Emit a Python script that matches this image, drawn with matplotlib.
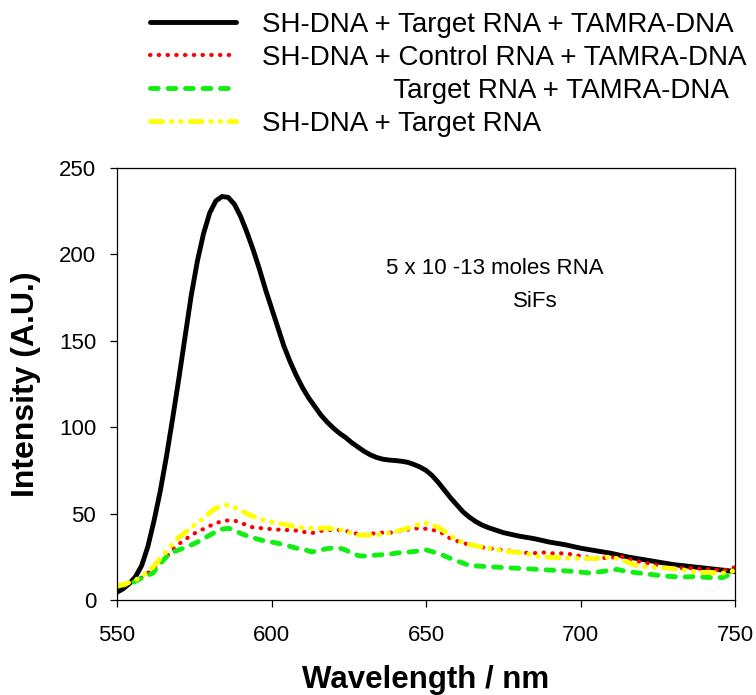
import matplotlib
matplotlib.use("Agg")
import matplotlib.pyplot as plt

plt.rcParams['font.family'] = ['Liberation Sans', 'DejaVu Sans']

# spectra (wavelength nm, intensity A.U.)
wl_black = [550, 552, 554, 556, 558, 560, 562, 564, 566, 568, 570, 572, 574, 576, 578, 580, 582,
            584, 586, 588, 590, 592, 594, 596, 598, 600, 602, 604, 606, 608, 610, 612, 614, 616,
            618, 620, 622, 624, 626, 628, 630, 632, 634, 636, 638, 640, 642, 644, 646, 648, 650,
            652, 654, 656, 658, 660, 662, 664, 666, 668, 670, 675, 680, 685, 690, 695, 700, 705,
            710, 715, 720, 725, 730, 735, 740, 745, 750]
int_black = [4.5, 6.5, 9.5, 13.5, 20, 31, 46, 63, 83, 105, 128, 152, 176, 196, 212, 224, 231,
             233.5, 233, 229, 222, 213, 203, 192, 180, 169, 158, 147, 138, 130, 123, 117, 112, 107,
             103, 99.5, 96.5, 94, 91, 88.5, 86, 84, 82.5, 81.5, 81, 80.7, 80.3, 79.7, 78.5, 77, 75,
             72, 68, 63.5, 59, 55, 51, 48, 45.5, 43.5, 42, 39, 37, 35.5, 33.5, 32, 30, 28.5,
             27, 25, 23.5, 22, 20.5, 19.5, 18.5, 17.5, 16.5]

wl_red = [550, 553, 555, 558, 561, 565, 569, 572, 575, 579, 582, 585, 588, 591, 594, 597, 600, 604,
          607, 610, 613, 616, 619, 623, 626, 629.6, 633, 636, 639, 642, 645, 648, 651, 654.5, 657,
          659, 663, 667.5, 672, 677, 681, 684, 688, 691, 694, 697, 701, 705, 709, 713.8, 717, 721,
          724, 727, 731, 735, 740, 744, 746, 748, 750]
int_red = [7, 8.5, 10, 13, 17, 23, 31, 35, 38.5, 42, 44.5, 46, 46, 44, 42, 41.5, 41, 40.5,
           40.5, 39.5, 38.7, 40, 40.5, 40.5, 39, 37.6, 38.5, 39, 39, 40, 41, 41.6, 41, 39.5, 36.5,
           34.7, 32.5, 30.7, 29.5, 28.5, 27.5, 27, 27.5, 27, 27, 26.5, 25, 24, 24.5, 25, 23, 21.5,
           20.5, 19, 18.5, 18.5, 18, 17.5, 17, 18, 19]

wl_green = [550, 553, 555, 558, 561.6, 564, 567, 570, 572.6, 576, 579, 582, 584, 586, 588, 590, 593,
            597, 601.7, 605, 608, 611, 613, 616, 619, 622, 624, 626, 628.6, 631, 634, 638, 642, 645,
            648, 650, 652, 654.5, 658, 661, 664, 668, 673, 678, 683.6, 688, 694, 698, 703, 707,
            711.8, 715, 719, 724, 728, 732, 737, 742, 746, 748, 750]
int_green = [8, 9, 10, 12.7, 15.6, 21, 27, 29, 30.7, 33.5, 36.5, 39.5, 41, 41.5, 40.5, 38.5, 36.5,
             34.5, 33, 31.5, 30, 29, 27.8, 29, 30, 30, 29, 27, 25.5, 25.5, 26, 26.5, 27.5, 27.8,
             28.5, 29, 28, 26.6, 24, 22, 20, 19.5, 19, 18.5, 18, 17.5, 17, 16.5, 15.6, 16.5,
             17.7, 16.5, 15.6, 14.5, 13.8, 13.3, 13.5, 13, 13, 14.5, 16]

wl_yellow = [550, 553, 556, 559, 561.6, 565, 569, 573, 577, 581, 583, 585.6, 588.8, 592, 596, 599,
             601.7, 605, 609, 613, 618, 623, 627.7, 631, 634, 637, 639, 642, 645, 648, 650, 652,
             654.5, 658, 662, 667, 673, 677, 682, 687, 693, 700, 705, 709.6, 713, 718, 723, 728,
             733, 738, 742, 746, 750]
int_yellow = [8, 9.5, 11.5, 15, 19, 26, 34.7, 40.5, 46, 52, 54, 55, 53, 50, 47, 45.5,
              44.5, 43.5, 42, 41.5, 41.6, 40.5, 37.6, 37.5, 37.6, 38.5, 39, 40.5, 42, 44, 44.5, 43.5,
              41.6, 37, 33, 31, 29, 28, 27, 25, 24.5, 24, 24, 25, 23.5, 20, 19, 18.5,
              17.5, 16, 16, 15.5, 17]

labels = ["SH-DNA + Target RNA + TAMRA-DNA",
          "SH-DNA + Control RNA + TAMRA-DNA",
          " " * 17 + "Target RNA + TAMRA-DNA",
          "SH-DNA + Target RNA"]

fig = plt.figure(figsize=(7.56, 6.95), dpi=100)
ax = fig.add_axes([117 / 756, 95 / 695, 618 / 756, 432 / 695])

ax.plot(wl_black, int_black, color='black', lw=3.5, solid_capstyle='round',
        solid_joinstyle='round', label=labels[0])
ax.plot(wl_red, int_red, color='#ff0000', lw=3, dashes=(0.1, 2.0), dash_capstyle='round',
        label=labels[1])
ax.plot(wl_green, int_green, color='#11ee11', lw=3.5, dashes=(1.6, 2.0), dash_capstyle='round',
        label=labels[2])
ax.plot(wl_yellow, int_yellow, color='#ffff00', lw=3.5,
        dashes=(2.5, 1.8, 0.1, 1.8, 0.1, 1.8), dash_capstyle='round', label=labels[3])

ax.set_xlim(550, 750)
ax.set_ylim(0, 250)
ax.set_xticks([550, 600, 650, 700, 750])
ax.set_yticks([0, 50, 100, 150, 200, 250])
ax.tick_params(direction='out', length=5, width=0.9, labelsize=16)
ax.tick_params(axis='x', pad=13)
ax.tick_params(axis='y', pad=10)
for s in ax.spines.values():
    s.set_linewidth(0.9)

ax.set_xlabel("Wavelength / nm", fontsize=22.5, fontweight='bold', labelpad=14)
ax.set_ylabel("Intensity (A.U.)", fontsize=23, fontweight='bold', labelpad=13)

ax.text(637, 192, "5 x 10 -13 moles RNA", fontsize=16, ha='left', va='center')
ax.text(678, 173, "SiFs", fontsize=16, ha='left', va='center')

fig.legend(loc='upper left', bbox_to_anchor=(150 / 756, 1 - 12 / 695), frameon=False,
           fontsize=20, handlelength=3.1, handletextpad=0.95, borderpad=0, borderaxespad=0,
           labelspacing=0.25)

fig.savefig("out.png", dpi=100)
